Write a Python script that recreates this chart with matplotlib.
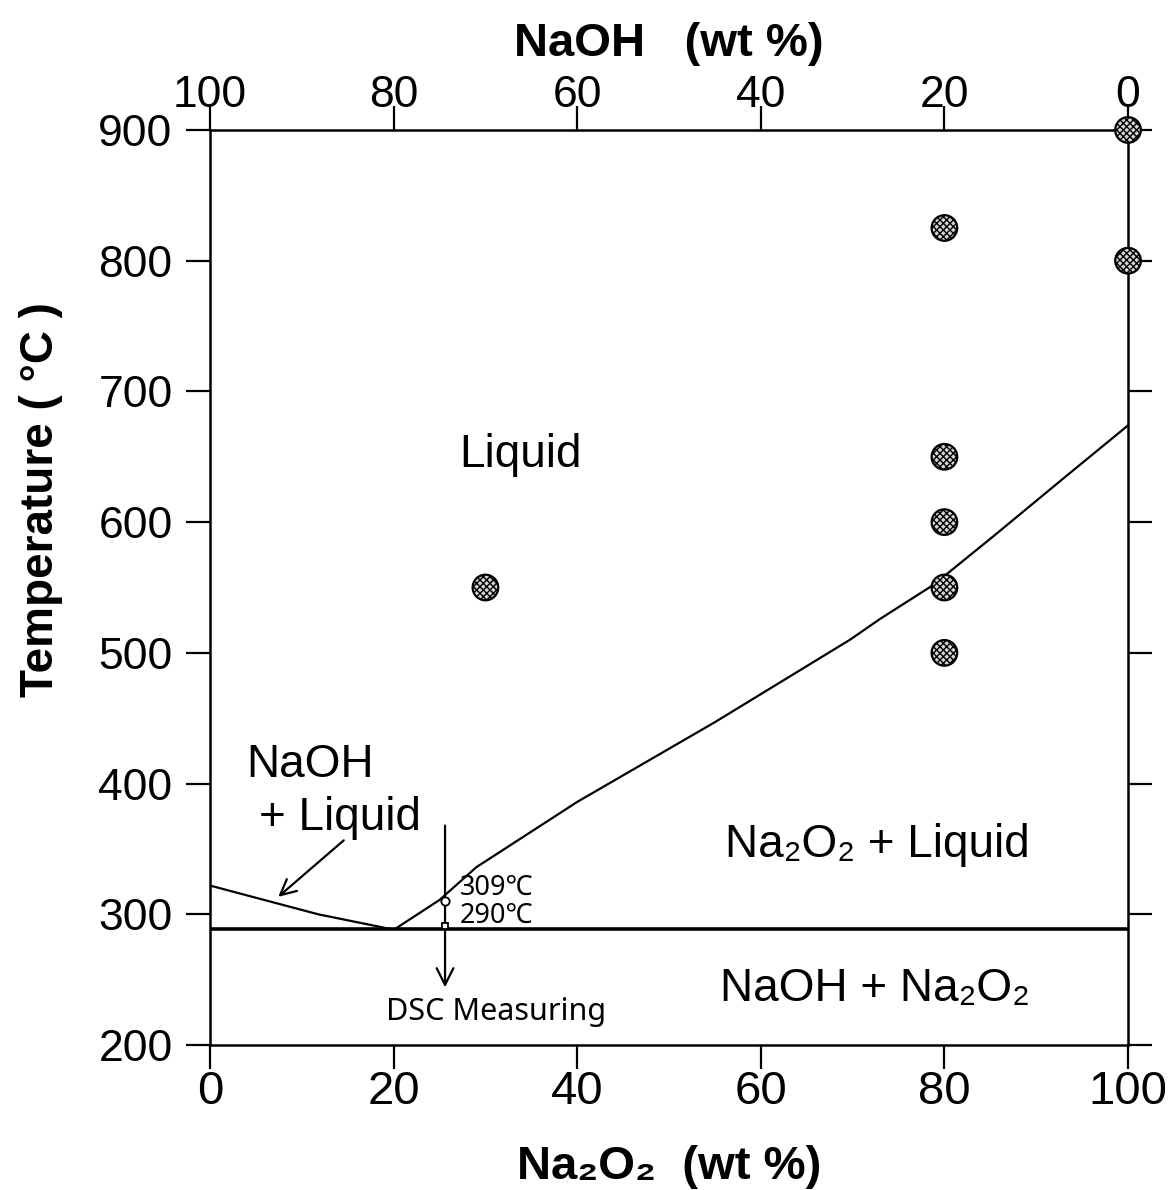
import matplotlib.pyplot as plt

plt.rcParams['font.family'] = ['Liberation Sans', 'DejaVu Sans']

# liquidus on the Na2O2 side (wt % Na2O2, deg C)
na2o2_liq_x = [20.2, 25.0, 29.0, 40.0, 55.0, 69.7, 73.0, 78.8, 85.3, 93.4, 100.0]
na2o2_liq_t = [289, 311, 336, 386, 447, 510, 526, 552, 589, 636, 674]

# liquidus on the NaOH side
naoh_liq_x = [0.0, 11.8, 19.5]
naoh_liq_t = [322, 300, 289]

eutectic_t = 289

# measured points
pts_x = [30, 80, 80, 80, 80, 80, 100, 100]
pts_t = [550, 825, 650, 600, 550, 500, 900, 800]

dsc_x = 25.6
dsc_t = [310, 291]

bottom_ticks = [0, 20, 40, 60, 80, 100]
left_ticks = [200, 300, 400, 500, 600, 700, 800, 900]

fig = plt.figure(figsize=(11.76, 11.9), dpi=100)
ax = fig.add_axes([0.1786, 0.1218, 0.7806, 0.769])

ax.plot(na2o2_liq_x, na2o2_liq_t, color='black', lw=1.6)
ax.plot(naoh_liq_x, naoh_liq_t, color='black', lw=1.6)
ax.plot([0, 100], [eutectic_t, eutectic_t], color='black', lw=2.6)

ax.scatter(pts_x, pts_t, s=340, facecolor='#d4d4d4', edgecolor='black',
           linewidth=1.6, hatch='xxxxx', zorder=5, clip_on=False)

# DSC measuring arrow and small markers
ax.annotate('', xy=(dsc_x, 242), xytext=(dsc_x, 370),
            arrowprops=dict(arrowstyle='->', color='black', lw=1.6,
                            mutation_scale=30))
ax.plot([dsc_x], [dsc_t[0]], marker='o', ms=6, mfc='white', mec='black', mew=1.3, zorder=6)
ax.plot([dsc_x], [dsc_t[1]], marker='s', ms=5, mfc='white', mec='black', mew=1.3, zorder=6)
ax.text(27.2, 320, '309℃', fontsize=19.5, va='center', ha='left',
        family=['Noto Sans', 'DejaVu Sans'])
ax.text(27.2, 299, '290℃', fontsize=19.5, va='center', ha='left',
        family=['Noto Sans', 'DejaVu Sans'])
ax.text(31.2, 225, 'DSC Measuring', fontsize=22, va='center', ha='center',
        family=['Noto Sans', 'DejaVu Sans'])

# region labels
ax.text(33.8, 651, 'Liquid', fontsize=33, ha='center', va='center')
ax.text(10.9, 414, 'NaOH', fontsize=33, ha='center', va='center')
ax.text(14.2, 374, '+ Liquid', fontsize=33, ha='center', va='center')
ax.annotate('', xy=(7.2, 312), xytext=(14.8, 358),
            arrowprops=dict(arrowstyle='->', color='black', lw=1.6,
                            mutation_scale=28))
ax.text(72.7, 353, 'Na₂O₂ + Liquid', fontsize=33, ha='center', va='center')
ax.text(72.4, 243, 'NaOH + Na₂O₂', fontsize=33, ha='center', va='center')

ax.set_xlim(0, 100)
ax.set_ylim(200, 900)
ax.set_xticks(bottom_ticks)
ax.set_yticks(left_ticks)
ax.tick_params(axis='x', direction='out', length=17, width=1.6, labelsize=34, pad=1)
ax.tick_params(axis='y', direction='out', length=17, width=1.6, labelsize=32,
               pad=10, right=True)
for sp in ax.spines.values():
    sp.set_linewidth(1.8)

top = ax.secondary_xaxis('top', functions=(lambda v: 100 - v, lambda v: 100 - v))
top.set_xticks([100, 80, 60, 40, 20, 0])
top.tick_params(direction='out', length=17, width=1.6, labelsize=32, pad=-7)
top.set_xlabel('NaOH   (wt %)', fontsize=34, fontweight='bold', labelpad=14)

ax.set_xlabel('Na₂O₂  (wt %)', fontsize=34, fontweight='bold', labelpad=22)
ax.set_ylabel('Temperature ( °C )', fontsize=33, fontweight='bold')
ax.yaxis.set_label_coords(-0.16, 0.596)

fig.savefig('out.png', dpi=100)
